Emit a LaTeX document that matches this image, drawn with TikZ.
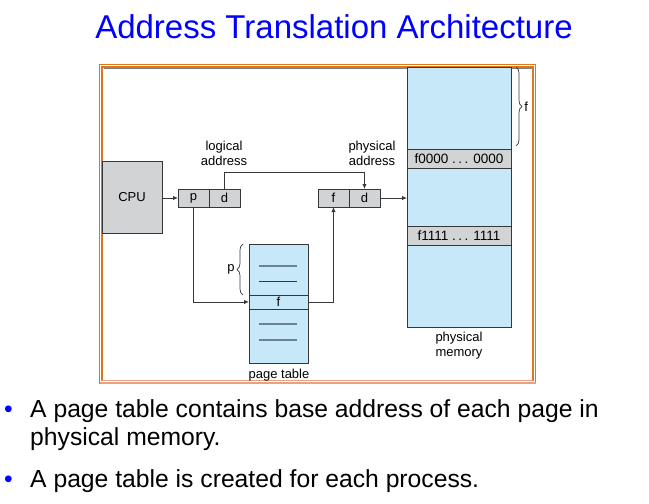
\documentclass[tikz,border=0pt]{standalone}
\usepackage{fontspec}
\setmainfont{Liberation Sans}
\usetikzlibrary{arrows.meta,decorations.pathreplacing}
\definecolor{lblue}{RGB}{198,232,248}
\definecolor{cgray}{RGB}{209,211,212}
\definecolor{dline}{RGB}{55,55,55}
\definecolor{frameor}{RGB}{222,118,28}
\definecolor{framesal}{RGB}{232,162,130}
\definecolor{ptline}{RGB}{110,130,145}
\definecolor{titleblue}{RGB}{0,0,255}
\begin{document}
\begin{tikzpicture}[x=1pt,y=-1pt,
  box/.style={draw=dline,line width=1pt,inner sep=0pt,outer sep=0pt},
  cell/.style={box,fill=cgray,minimum width=31pt,minimum height=18pt,font=\fontsize{13}{15}\selectfont},
  arr/.style={draw=dline,line width=1pt,-{Latex[length=5pt,width=4.5pt]}},
  lbl/.style={align=center,inner sep=0pt,font=\fontsize{13}{15}\selectfont},
  brc/.style={draw=dline,line width=0.7pt,decorate,decoration={brace,amplitude=6pt}},
  bul/.style={anchor=base west,inner sep=0pt,font=\fontsize{24.7}{29}\selectfont}]
\useasboundingbox (0,0) rectangle (649,504);
% title
\node[anchor=base,inner sep=0pt,text=titleblue,font=\fontsize{33}{38}\selectfont] (title) at (334,38) {Address Translation Architecture};
% frame
\draw[frameor,line width=1.3pt] (99.5,64.5) rectangle (535.5,383);
\draw[frameor,line width=1.3pt] (102,67) rectangle (533,380.5);
\draw[framesal,line width=1.3pt] (99.5,383) -- (535.5,383);
\draw[framesal,line width=1.3pt] (102,380.5) -- (533,380.5);
\draw[gray,line width=0.5pt] (103.5,68.5) -- (532,68.5);
% memory
\node[box,fill=lblue,minimum width=104pt,minimum height=260pt] (mem) at (459,197) {};
\node[box,fill=cgray,minimum width=104pt,minimum height=19pt,font=\fontsize{13.5}{15}\selectfont] (m0) at (459,158.5) {f0000 .\hspace{2.5pt}.\hspace{2.5pt}. 0000};
\node[box,fill=cgray,minimum width=104pt,minimum height=19pt,font=\fontsize{13.5}{15}\selectfont] (m1) at (459,235.5) {f1111 .\hspace{2.5pt}.\hspace{2.5pt}. 1111};
\draw[brc] (516,67) -- (516,146) node[midway,right=8pt,inner sep=0pt,font=\fontsize{13}{15}\selectfont] (flbl) {f};
\node[lbl] (pmem) at (459,346) {physical\\memory};
% CPU
\node[box,fill=cgray,minimum width=60pt,minimum height=72pt,font=\fontsize{13}{15}\selectfont] (cpu) at (132,197) {CPU};
% logical address
\node[cell] (p) at (193.5,198) {p};
\node[cell] (d) at (224.5,198) {d};
\node[lbl] (lalbl) at (224,153.5) {logical\\address};
% physical address
\node[cell] (f) at (333.5,198) {f};
\node[cell] (d2) at (364.5,198) {d};
\node[lbl] (palbl) at (372,153.5) {physical\\address};
% page table
\node[box,fill=lblue,minimum width=59pt,minimum height=119pt] (pt) at (278.5,303.5) {};
\node[box,fill=lblue,minimum width=59pt,minimum height=14pt,font=\fontsize{13}{15}\selectfont] (frow) at (278.5,302) {f};
\coordinate (l1a) at (259,266); \coordinate (l1b) at (297,266);
\coordinate (l2a) at (259,281); \coordinate (l2b) at (297,281);
\coordinate (l3a) at (259,324); \coordinate (l3b) at (297,324);
\coordinate (l4a) at (259,340); \coordinate (l4b) at (297,340);
\draw[ptline,line width=1.4pt] (l1a) -- (l1b);
\draw[dline,line width=1pt] (l2a) -- (l2b);
\draw[ptline,line width=1.4pt] (l3a) -- (l3b);
\draw[ptline,line width=1.4pt] (l4a) -- (l4b);
\draw[brc] (243,295) -- (243,244) node[midway,left=8pt,inner sep=0pt,font=\fontsize{13}{15}\selectfont] (plbl) {p};
\node[lbl] (ptlbl) at (279,375) {page table};
% connectors
\draw[arr] (cpu.east |- p.west) -- (p.west);
\draw[arr] (p.south) |- (frow.west);
\draw[arr] (frow.east) -| (f.south);
\draw[arr] (d.north) -- ++(0,-17) -| (d2.north);
\draw[arr] (d2.east) -- (mem.west |- d2.east);
% bullets
\node[bul,text=titleblue] (b1) at (4,417) {•};
\node[bul] (t1) at (30,417) {A page table contains base address of each page in};
\node[bul] (t1b) at (30,445) {physical memory.};
\node[bul,text=titleblue] (b2) at (4,487) {•};
\node[bul] (t2) at (30,487) {A page table is created for each process.};
\end{tikzpicture}
\end{document}
